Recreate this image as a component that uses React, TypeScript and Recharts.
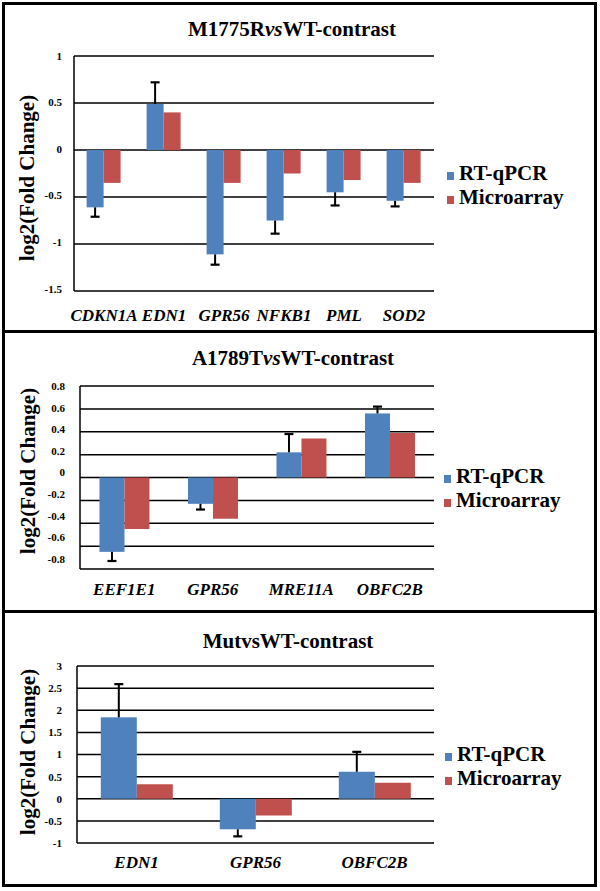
import React from 'react';
import { BarChart, Bar, XAxis, YAxis, CartesianGrid, Legend } from 'recharts';

// ---- Panel 1: M1775R vs WT ----
const p1Genes = ['CDKN1A', 'EDN1', 'GPR56', 'NFKB1', 'PML', 'SOD2'];
const p1Qpcr = [-0.61, 0.49, -1.11, -0.75, -0.45, -0.54];
const p1QpcrErr = [0.10, 0.23, 0.11, 0.14, 0.14, 0.06];
const p1Micro = [-0.35, 0.40, -0.35, -0.25, -0.32, -0.35];
const p1Ticks = [-1.5, -1, -0.5, 0, 0.5, 1];

// ---- Panel 2: A1789T vs WT ----
const p2Genes = ['EEF1E1', 'GPR56', 'MRE11A', 'OBFC2B'];
const p2Qpcr = [-0.65, -0.23, 0.22, 0.56];
const p2QpcrErr = [0.08, 0.05, 0.16, 0.06];
const p2Micro = [-0.45, -0.36, 0.34, 0.39];
const p2Ticks = [-0.8, -0.6, -0.4, -0.2, 0, 0.2, 0.4, 0.6, 0.8];

// ---- Panel 3: Mut vs WT ----
const p3Genes = ['EDN1', 'GPR56', 'OBFC2B'];
const p3Qpcr = [1.84, -0.69, 0.61];
const p3QpcrErr = [0.75, 0.16, 0.45];
const p3Micro = [0.33, -0.38, 0.36];
const p3Ticks = [-1, -0.5, 0, 0.5, 1, 1.5, 2, 2.5, 3];

const seriesNames = ['RT-qPCR', 'Microarray'];
const BLUE = '#4F81BD';
const RED = '#C0504D';
const SERIF = '"Liberation Serif", "Times New Roman", serif';

const build = (genes: string[], q: number[], e: number[], m: number[]) =>
  genes.map((g, i) => ({ gene: g, qpcr: q[i], err: e[i], micro: m[i] }));

const BarWithError = (props: any) => {
  const { x, y, width, height, fill, payload } = props;
  const v: number = payload.qpcr;
  const err: number = payload.err;
  const top = Math.min(y, y + height);
  const bottom = Math.max(y, y + height);
  const h = bottom - top;
  const k = v !== 0 ? h / Math.abs(v) : 0;
  const endY = v >= 0 ? top : bottom;
  const errY = v >= 0 ? endY - k * err : endY + k * err;
  const cx = x + width / 2;
  return (
    <g>
      <rect x={x} y={top} width={width} height={h} fill={fill} />
      <line x1={cx} y1={endY} x2={cx} y2={errY} stroke="#000" strokeWidth={2} />
      <line x1={cx - 4.5} y1={errY} x2={cx + 4.5} y2={errY} stroke="#000" strokeWidth={2.2} />
    </g>
  );
};

const makeYTick = (plotTop: number, squeeze: number) => (props: any) => {
  const { x, y, payload } = props;
  const yy = y - (y - plotTop) * squeeze;
  return (
    <text x={x} y={yy} dy="0.355em" textAnchor="end" fontFamily={SERIF} fontWeight="bold" fontSize={11} fill="#000">
      {payload.value}
    </text>
  );
};

const LegendContent = () => (
  <div style={{ fontFamily: SERIF, fontWeight: 'bold', fontSize: 21, lineHeight: '24px', color: '#000', whiteSpace: 'nowrap' }}>
    {seriesNames.map((n, i) => (
      <div key={n}>
        <span style={{ display: 'inline-block', width: 7, height: 8, background: i === 0 ? BLUE : RED, marginRight: 5 }} />
        {n}
      </div>
    ))}
  </div>
);

type PanelProps = {
  top: number;
  height: number;
  data: any[];
  ticks: number[];
  margin: { top: number; right: number; bottom: number; left: number };
  gap: string;
  xTickOffset: number;
  yTickGap: number;
  squeeze: number;
  legendPos: { left: number; top: number };
  title: React.ReactNode;
  titlePos: { x: number; y: number };
  yLabelPos: { x: number; y: number };
};

const Panel = (p: PanelProps) => (
  <div style={{ position: 'absolute', left: 0, top: p.top, width: 600, height: p.height }}>
    <BarChart
      width={600}
      height={p.height}
      data={p.data}
      margin={p.margin}
      barGap={0}
      barCategoryGap={p.gap}
    >
      <CartesianGrid vertical={false} stroke="#000" strokeWidth={1.5} />
      <XAxis
        dataKey="gene"
        height={30}
        axisLine={false}
        tickLine={false}
        tickSize={0}
        tickMargin={p.xTickOffset}
        interval={0}
        tick={{ fontFamily: SERIF, fontWeight: 'bold', fontStyle: 'italic', fontSize: 17, fill: '#000' }}
      />
      <YAxis
        type="number"
        width={60}
        domain={[p.ticks[0], p.ticks[p.ticks.length - 1]]}
        ticks={p.ticks}
        interval={0}
        axisLine={{ stroke: '#000', strokeWidth: 1.5 }}
        tickLine={false}
        tickSize={0}
        tickMargin={p.yTickGap}
        tick={makeYTick(p.margin.top, p.squeeze)}
      />
      <Legend
        layout="horizontal"
        align="center"
        verticalAlign="middle"
        content={<LegendContent />}
        wrapperStyle={{ left: p.legendPos.left, top: p.legendPos.top, width: 'auto' }}
      />
      <Bar dataKey="qpcr" name={seriesNames[0]} fill={BLUE} isAnimationActive={false} shape={<BarWithError />} />
      <Bar dataKey="micro" name={seriesNames[1]} fill={RED} isAnimationActive={false} />
    </BarChart>
    <div
      style={{
        position: 'absolute',
        left: p.titlePos.x,
        top: p.titlePos.y,
        transform: 'translate(-50%, -50%)',
        fontFamily: SERIF,
        fontWeight: 'bold',
        fontSize: 21,
        whiteSpace: 'nowrap',
        color: '#000',
      }}
    >
      {p.title}
    </div>
    <div
      style={{
        position: 'absolute',
        left: p.yLabelPos.x,
        top: p.yLabelPos.y,
        transform: 'translate(-50%, -50%) rotate(-90deg)',
        fontFamily: SERIF,
        fontWeight: 'bold',
        fontSize: 21,
        whiteSpace: 'nowrap',
        color: '#000',
      }}
    >
      log2(Fold Change)
    </div>
  </div>
);

export default function App() {
  const d1 = build(p1Genes, p1Qpcr, p1QpcrErr, p1Micro);
  const d2 = build(p2Genes, p2Qpcr, p2QpcrErr, p2Micro);
  const d3 = build(p3Genes, p3Qpcr, p3QpcrErr, p3Micro);
  return (
    <div style={{ position: 'absolute', left: 0, top: 0, width: 600, height: 891, background: '#fff', overflow: 'hidden' }}>
      <Panel
        top={0}
        height={333}
        data={d1}
        ticks={p1Ticks}
        margin={{ top: 56, right: 166, bottom: 12, left: 14 }}
        gap="21%"
        xTickOffset={18}
        yTickGap={12}
        squeeze={0.01}
        legendPos={{ left: 447, top: 161 }}
        title={<span>M1775R<i>vs</i>WT-contrast</span>}
        titlePos={{ x: 292, y: 29 }}
        yLabelPos={{ x: 27, y: 178 }}
      />
      <Panel
        top={333}
        height={278}
        data={d2}
        ticks={p2Ticks}
        margin={{ top: 53, right: 166, bottom: 12, left: 20 }}
        gap="22%"
        xTickOffset={14}
        yTickGap={15}
        squeeze={0.055}
        legendPos={{ left: 444, top: 131 }}
        title={<span>A1789T<i>vs</i>WT-contrast</span>}
        titlePos={{ x: 293, y: 25 }}
        yLabelPos={{ x: 28, y: 138 }}
      />
      <Panel
        top={613}
        height={278}
        data={d3}
        ticks={p3Ticks}
        margin={{ top: 53, right: 166, bottom: 18, left: 17 }}
        gap="20%"
        xTickOffset={13}
        yTickGap={15}
        squeeze={0}
        legendPos={{ left: 445, top: 129 }}
        title={<span>MutvsWT-contrast</span>}
        titlePos={{ x: 288, y: 28 }}
        yLabelPos={{ x: 28, y: 139 }}
      />
      <div style={{ position: 'absolute', left: 2, top: 2, width: 595, height: 885, border: '3px solid #000', boxSizing: 'border-box' }} />
      <div style={{ position: 'absolute', left: 2, top: 330, width: 595, height: 3, background: '#000' }} />
      <div style={{ position: 'absolute', left: 2, top: 610, width: 595, height: 3, background: '#000' }} />
    </div>
  );
}
